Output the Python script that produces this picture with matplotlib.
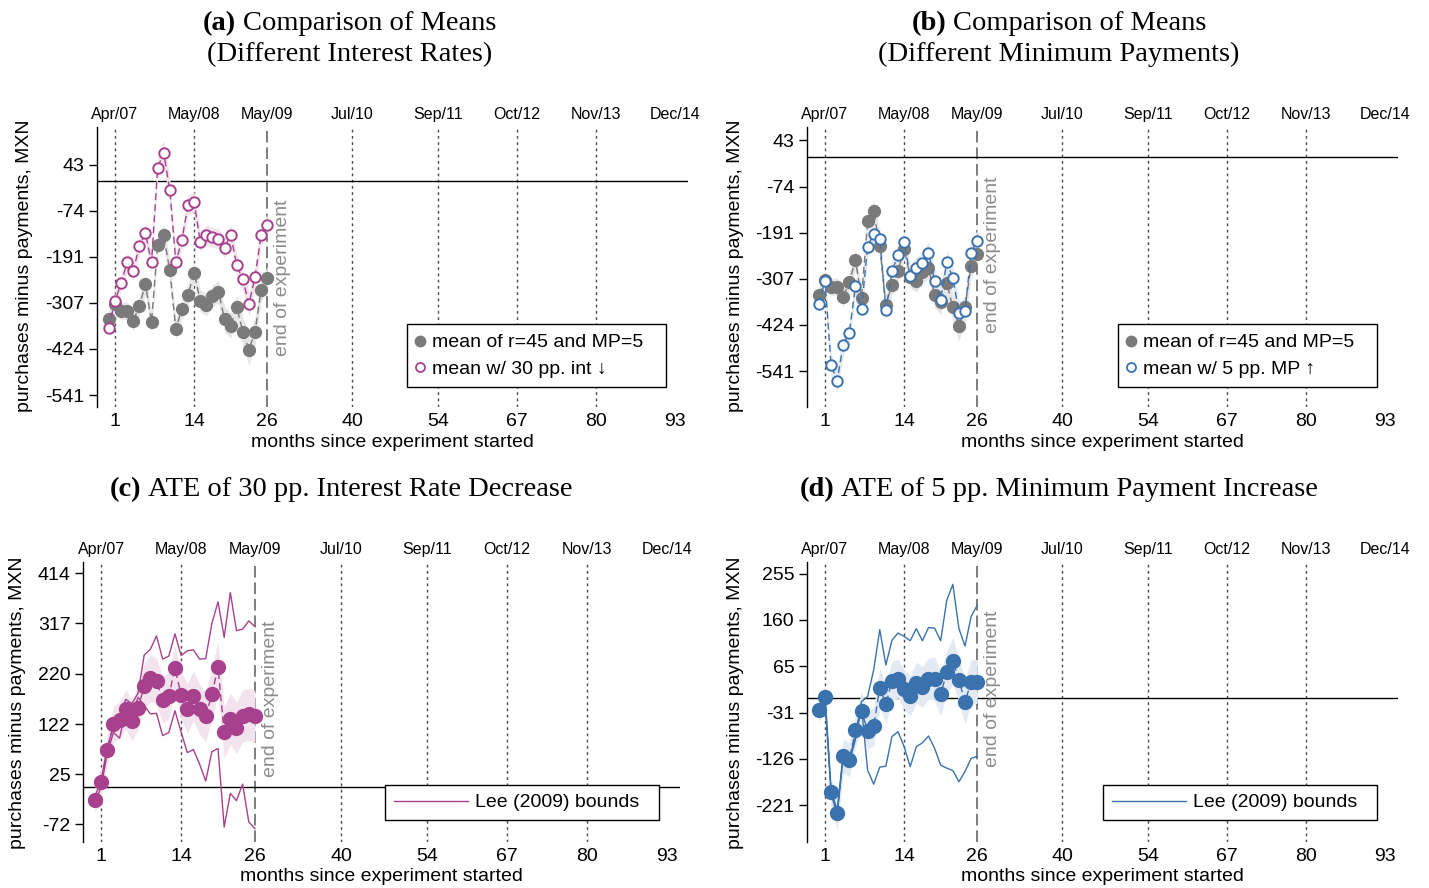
import matplotlib
matplotlib.use("Agg")
import matplotlib.pyplot as plt
from matplotlib.lines import Line2D

plt.rcParams['font.family'] = ['Liberation Sans', 'DejaVu Sans']

# ---------------- data ----------------
months = [0, 1, 2, 3, 4, 5, 6, 7, 8, 9, 10, 11, 12, 13, 14, 15, 16, 17, 18, 19, 20,
          21, 22, 23, 24, 25, 26]

control_mean = [-348, -311, -328, -327, -353, -315, -260, -356, -161, -136, -225, -374, -322,
                -287, -231, -302, -312, -290, -279, -349, -365, -318, -380, -426, -380, -274, -245]
control_ci = [20, 20, 22, 22, 25, 22, 25, 25, 25, 28, 28, 25, 25, 28, 28, 28, 28, 28, 28, 32,
              32, 32, 35, 40, 35, 30, 30]

rate_mean = [-371, -302, -258, -204, -226, -164, -131, -205, 34, 73, -22, -205, -147, -59, -52,
             -152, -135, -141, -145, -168, -135, -212, -248, -310, -242, -135, -111]
rate_ci = [18, 18, 20, 22, 22, 22, 25, 25, 28, 32, 30, 25, 25, 25, 25, 25, 25, 25, 25, 25, 25,
           28, 28, 30, 30, 28, 28]

mp_mean = [-372, -312, -526, -565, -474, -444, -326, -383, -227, -193, -206, -387, -288, -247,
           -215, -301, -280, -267, -241, -312, -360, -265, -305, -393, -388, -241, -211]
mp_ci = [20, 20, 30, 30, 28, 25, 25, 25, 25, 28, 28, 25, 25, 25, 25, 28, 28, 28, 28, 30, 30,
         30, 30, 30, 28, 28, 28]

ate_rate = [-24, 11, 72, 122, 130, 151, 129, 153, 196, 211, 205, 169, 177, 230, 179, 152, 177,
            151, 137, 180, 232, 106, 132, 115, 138, 141, 137]
ate_rate_ci = [25, 25, 30, 35, 35, 38, 40, 42, 45, 45, 45, 45, 45, 45, 45, 48, 48, 48, 48, 50,
               50, 50, 50, 50, 50, 50, 50]
rate_upper = [-18, 14, 78, 117, 137, 170, 162, 182, 256, 267, 293, 248, 254, 297, 255, 264, 266,
              248, 249, 317, 359, 290, 377, 303, 306, 322, 311]
rate_lower = [-30, 1, 66, 106, 95, 150, 140, 174, 158, 142, 143, 100, 106, 148, 107, 67, 73, 45,
              12, 69, 75, -77, -12, -26, 6, -67, -80]

ate_mp = [-26, 1, -195, -238, -120, -128, -67, -27, -68, -59, 20, -13, 35, 39, 17, 4, 31, 22, 39,
          39, 7, 52, 76, 36, -9, 33, 33]
ate_mp_ci = [25, 25, 30, 35, 35, 35, 35, 38, 38, 40, 40, 40, 40, 40, 40, 42, 42, 42, 42, 45, 45,
             45, 48, 45, 45, 45, 45]
mp_upper = [-20, 5, -190, -232, -118, -125, -80, -8, 2, 57, 140, 67, 118, 133, 126, 117, 142,
            117, 144, 143, 117, 200, 233, 142, 106, 167, 190]
mp_lower = [-30, -3, -197, -242, -121, -132, -87, -19, -149, -178, -143, -141, -80, -70, -101,
            -142, -101, -93, -79, -104, -139, -145, -150, -173, -152, -125, -121]

bottom_ticks = [1, 14, 26, 40, 54, 67, 80, 93]
top_labels = ["Apr/07", "May/08", "May/09", "Jul/10", "Sep/11", "Oct/12", "Nov/13", "Dec/14"]
dotted_months = [1, 14, 40, 54, 67, 80]
end_month = 26

yticks_a = [43, -74, -191, -307, -424, -541]
yticks_b = [43, -74, -191, -307, -424, -541]
yticks_c = [414, 317, 220, 122, 25, -72]
yticks_d = [255, 160, 65, -31, -126, -221]

# ---------------- style ----------------
W, H = 1429, 888
GREY = '#7a7a7a'
PURPLE = '#a8418d'
BLUE = '#3a72ad'
GREY_BAND = '#e6e6e6'
PURPLE_BAND = '#f3e3ee'
BLUE_BAND = '#e3eaf3'
FS = 14

fig = plt.figure(figsize=(W / 100, H / 100), dpi=100)


def ax_rect(left, right, top, bottom):
    return [left / W, 1 - bottom / H, (right - left) / W, (bottom - top) / H]


def setup(ax, ylim, yticks, text_y):
    ax.set_xlim(-1.95, 95.1)
    ax.set_ylim(*ylim)
    ax.set_yticks(yticks)
    ax.set_yticklabels([str(v) for v in yticks])
    ax.tick_params(axis='y', direction='out', length=6, width=1, labelsize=FS, pad=3)
    ax.set_xticks(bottom_ticks)
    ax.set_xticklabels([str(v) for v in bottom_ticks])
    ax.tick_params(axis='x', length=0, labelsize=FS, pad=4)
    for s in ['top', 'right', 'bottom']:
        ax.spines[s].set_visible(False)
    ax.spines['left'].set_linewidth(1)
    for v in dotted_months:
        ax.axvline(v, color='#4a4a4a', ls=(0, (2, 2.5)), lw=1, zorder=1)
    ax.axvline(end_month, color='#7d7d7d', ls=(0, (6, 2.5)), lw=1.4, zorder=1)
    ax.axhline(0, color='black', lw=1, zorder=1)
    sec = ax.secondary_xaxis('top')
    sec.set_xticks(bottom_ticks)
    sec.set_xticklabels(top_labels)
    sec.tick_params(length=0, labelsize=11.5, pad=3.5)
    sec.spines['top'].set_visible(False)
    ax.text(end_month + 2.5, text_y, 'end of experiment', rotation=90, color='#8c8c8c',
            fontsize=FS, ha='center', va='center', transform=ax.get_xaxis_transform())


# ---------- panel (a) ----------
ax_a = fig.add_axes(ax_rect(97, 688, 127, 407))
setup(ax_a, (-571, 138), yticks_a, 0.46)
ax_a.fill_between(months, [m - c for m, c in zip(control_mean, control_ci)],
                  [m + c for m, c in zip(control_mean, control_ci)], color=GREY_BAND, lw=0, zorder=2)
ax_a.fill_between(months, [m - c for m, c in zip(rate_mean, rate_ci)],
                  [m + c for m, c in zip(rate_mean, rate_ci)], color=PURPLE_BAND, lw=0, zorder=2)
ax_a.plot(months, control_mean, color=GREY, ls=(0, (5, 3)), lw=1, marker='o', ms=8.5,
          mfc=GREY, mec=GREY, zorder=3)
ax_a.plot(months, rate_mean, color=PURPLE, ls=(0, (5, 3)), lw=1, marker='o', ms=7.5,
          mfc='white', mec=PURPLE, mew=1.4, zorder=4)

# ---------- panel (b) ----------
ax_b = fig.add_axes(ax_rect(807, 1398, 127, 407))
setup(ax_b, (-632, 77), yticks_b, 0.542)
ax_b.fill_between(months, [m - c for m, c in zip(control_mean, control_ci)],
                  [m + c for m, c in zip(control_mean, control_ci)], color=GREY_BAND, lw=0, zorder=2)
ax_b.fill_between(months, [m - c for m, c in zip(mp_mean, mp_ci)],
                  [m + c for m, c in zip(mp_mean, mp_ci)], color=BLUE_BAND, lw=0, zorder=2)
ax_b.plot(months, control_mean, color=GREY, ls=(0, (5, 3)), lw=1, marker='o', ms=8.5,
          mfc=GREY, mec=GREY, zorder=3)
ax_b.plot(months, mp_mean, color=BLUE, ls=(0, (5, 3)), lw=1, marker='o', ms=7.5,
          mfc='white', mec=BLUE, mew=1.4, zorder=4)

# ---------- panel (c) ----------
ax_c = fig.add_axes(ax_rect(83, 680, 562, 842))
setup(ax_c, (-106, 436), yticks_c, 0.513)
ax_c.fill_between(months, [m - c for m, c in zip(ate_rate, ate_rate_ci)],
                  [m + c for m, c in zip(ate_rate, ate_rate_ci)], color=PURPLE_BAND, lw=0, zorder=2)
ax_c.plot(months, rate_upper, color=PURPLE, lw=1, zorder=3)
ax_c.plot(months, rate_lower, color=PURPLE, lw=1, zorder=3)
ax_c.plot(months, ate_rate, color=PURPLE, ls=(0, (5, 3)), lw=1, marker='o', ms=10,
          mfc=PURPLE, mec=PURPLE, zorder=4)

# ---------- panel (d) ----------
ax_d = fig.add_axes(ax_rect(807, 1398, 562, 842))
setup(ax_d, (-297, 279), yticks_d, 0.549)
ax_d.fill_between(months, [m - c for m, c in zip(ate_mp, ate_mp_ci)],
                  [m + c for m, c in zip(ate_mp, ate_mp_ci)], color=BLUE_BAND, lw=0, zorder=2)
ax_d.plot(months, mp_upper, color=BLUE, lw=1, zorder=3)
ax_d.plot(months, mp_lower, color=BLUE, lw=1, zorder=3)
ax_d.plot(months, ate_mp, color=BLUE, ls=(0, (5, 3)), lw=1, marker='o', ms=10,
          mfc=BLUE, mec=BLUE, zorder=4)

# ---------- legends ----------
def legend(ax, handles, labels, left, right, top, height, **kw):
    lg = ax.legend(handles, labels, loc='upper left', mode='expand',
                   bbox_to_anchor=(left / W, 1 - (top + height) / H, (right - left) / W, height / H),
                   bbox_transform=fig.transFigure, borderaxespad=0, frameon=True, fancybox=False,
                   edgecolor='black', framealpha=1, fontsize=FS, **kw)
    lg.get_frame().set_linewidth(1)
    lg.set_zorder(10)
    return lg

legend(ax_a, [Line2D([], [], ls='none', marker='o', ms=7.5, mfc=GREY, mec=GREY),
              Line2D([], [], ls='none', marker='o', ms=6.5, mfc='white', mec=PURPLE, mew=1.3)],
       ['mean of r=45 and MP=5', 'mean w/ 30 pp. int \u2193'], 407, 666, 324, 61,
       handlelength=0.35, handletextpad=0.44, borderpad=0.5, labelspacing=0.45)
legend(ax_b, [Line2D([], [], ls='none', marker='o', ms=7.5, mfc=GREY, mec=GREY),
              Line2D([], [], ls='none', marker='o', ms=6.5, mfc='white', mec=BLUE, mew=1.3)],
       ['mean of r=45 and MP=5', 'mean w/ 5 pp. MP \u2191'], 1118, 1377, 324, 61,
       handlelength=0.35, handletextpad=0.44, borderpad=0.5, labelspacing=0.45)
legend(ax_c, [Line2D([], [], color=PURPLE, lw=1)], ['Lee (2009) bounds'], 385, 659, 785, 35,
       handlelength=3.8, handletextpad=0.38, borderpad=0.45)
legend(ax_d, [Line2D([], [], color=BLUE, lw=1)], ['Lee (2009) bounds'], 1103, 1377, 785, 35,
       handlelength=3.8, handletextpad=0.38, borderpad=0.45)

# ---------- axis labels ----------
for (x, y) in [(25, 266), (735, 266), (18, 703), (735, 703)]:
    fig.text(x / W, 1 - y / H, 'purchases minus payments, MXN', rotation=90, fontsize=FS,
             ha='center', va='center')
for (x, y) in [(392, 442), (1102, 442), (381.5, 876), (1102, 876)]:
    fig.text(x / W, 1 - y / H, 'months since experiment started', fontsize=FS,
             ha='center', va='center')

# ---------- titles ----------
renderer = fig.canvas.get_renderer()
TFS = 20.5


def title_line(cx, base_y, bold, rest):
    t1 = fig.text(0, 0, bold, weight='bold', family='Liberation Serif', fontsize=TFS,
                  ha='left', va='baseline')
    t2 = fig.text(0, 0, rest, family='Liberation Serif', fontsize=TFS, ha='left', va='baseline')
    w1 = t1.get_window_extent(renderer).width
    w2 = t2.get_window_extent(renderer).width
    gap = TFS * 0.25 * 100 / 72
    x0 = cx - (w1 + gap + w2) / 2
    t1.set_position((x0 / W, 1 - base_y / H))
    t2.set_position(((x0 + w1 + gap) / W, 1 - base_y / H))


def plain_line(cx, base_y, text):
    fig.text(cx / W, 1 - base_y / H, text, family='Liberation Serif', fontsize=TFS,
             ha='center', va='baseline')


title_line(350, 30, '(a)', 'Comparison of Means')
plain_line(350, 61, '(Different Interest Rates)')
title_line(1059, 30, '(b)', 'Comparison of Means')
plain_line(1059, 61, '(Different Minimum Payments)')
title_line(341, 496, '(c)', 'ATE of 30 pp. Interest Rate Decrease')
title_line(1059, 496, '(d)', 'ATE of 5 pp. Minimum Payment Increase')

fig.savefig('out.png', dpi=100)
